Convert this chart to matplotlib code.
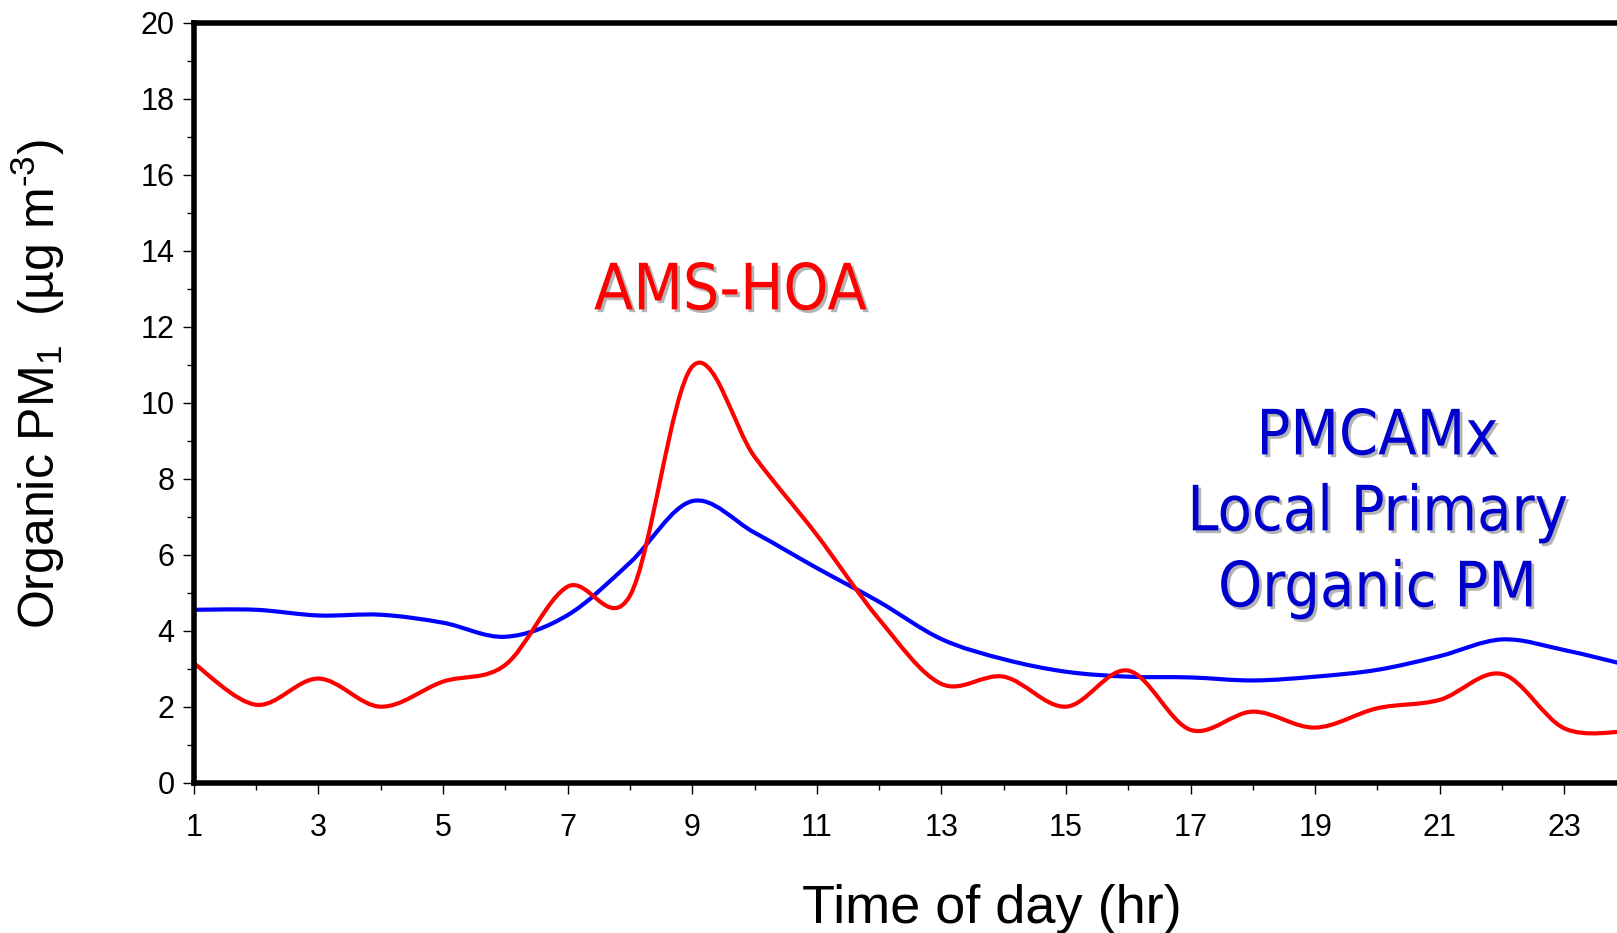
import matplotlib.pyplot as plt
import matplotlib.patheffects as pe
import numpy as np
from matplotlib.path import Path
from matplotlib.patches import PathPatch
from matplotlib.ticker import MultipleLocator

plt.rcParams.update({"font.family": "Liberation Sans", "mathtext.default": "regular"})

# Hourly diurnal averages (ug m-3)
hours = np.arange(1, 25)
ams_hoa = [3.14, 2.05, 2.74, 2.00, 2.66, 3.10, 5.16, 4.92, 10.95, 8.58, 6.52, 4.30,
           2.60, 2.79, 2.00, 2.95, 1.39, 1.87, 1.45, 1.96, 2.18, 2.86, 1.43, 1.35]
pmcamx = [4.55, 4.55, 4.40, 4.42, 4.21, 3.84, 4.41, 5.79, 7.41, 6.58, 5.65, 4.76,
          3.78, 3.25, 2.92, 2.79, 2.77, 2.69, 2.79, 2.97, 3.33, 3.77, 3.49, 3.10]


def smooth_path(x, y):
    # Catmull-Rom style cubic Bezier through every hourly point
    x = np.asarray(x, float)
    y = np.asarray(y, float)
    xp = np.concatenate([[x[0]], x, [x[-1]]])
    yp = np.concatenate([[y[0]], y, [y[-1]]])
    verts = [(x[0], y[0])]
    codes = [Path.MOVETO]
    for i in range(len(x) - 1):
        c1 = (x[i] + (xp[i + 2] - xp[i]) / 6, y[i] + (yp[i + 2] - yp[i]) / 6)
        c2 = (x[i + 1] - (xp[i + 3] - xp[i + 1]) / 6, y[i + 1] - (yp[i + 3] - yp[i + 1]) / 6)
        verts += [c1, c2, (x[i + 1], y[i + 1])]
        codes += [Path.CURVE4] * 3
    return Path(verts, codes)


fig = plt.figure(figsize=(16.17, 9.33), dpi=100)
ax = fig.add_axes([0.1199, 0.1611, 0.8801, 0.8146])

ax.add_patch(PathPatch(smooth_path(hours, pmcamx), fill=False, edgecolor="#0000FF", lw=3))
ax.add_patch(PathPatch(smooth_path(hours, ams_hoa), fill=False, edgecolor="#FF0000", lw=3))

ax.set_xlim(1, 23.846)
ax.set_ylim(0, 20)
ax.set_xticks(np.arange(1, 24, 2))
ax.xaxis.set_minor_locator(MultipleLocator(1))
ax.yaxis.set_major_locator(MultipleLocator(2))
ax.yaxis.set_minor_locator(MultipleLocator(1))

for side in ["left", "bottom", "top"]:
    ax.spines[side].set_linewidth(4)
ax.spines["right"].set_visible(False)

ax.tick_params(axis="both", which="major", direction="out", length=8, width=1, labelsize=22)
ax.tick_params(axis="both", which="minor", direction="out", length=5, width=1)
ax.tick_params(axis="y", which="major", pad=6)
ax.tick_params(axis="x", which="major", pad=14)

# hyphen (U+2010) in the exponent so it stays short like a dash
ax.set_ylabel("Organic PM$_1$  (µg m$^{\u20103}$)", fontsize=36)
ax.yaxis.set_label_coords(38 / 1617, 1 - 384 / 933, transform=fig.transFigure)
ax.yaxis.label.set_va("center")

ax.set_xlabel("Time of day (hr)", fontsize=39)
ax.xaxis.set_label_coords(992 / 1617, 1 - 923 / 933, transform=fig.transFigure)
ax.xaxis.label.set_va("baseline")

shadow = [pe.withSimplePatchShadow(offset=(2, -2), shadow_rgbFace="#b4b4b4", alpha=1)]
ax.text(9.61, 12.455, "AMS-HOA", color="#FF0000", fontsize=46,
        family="DejaVu Sans", fontstretch="condensed",
        ha="center", va="baseline", path_effects=shadow)
ax.text(20.0, 4.64, "PMCAMx\nLocal Primary\nOrganic PM", color="#0000CC", fontsize=45,
        family="DejaVu Sans", fontstretch="condensed", linespacing=1.34,
        ha="center", va="baseline", multialignment="center", path_effects=shadow)

fig.savefig("out.png", dpi=100)
